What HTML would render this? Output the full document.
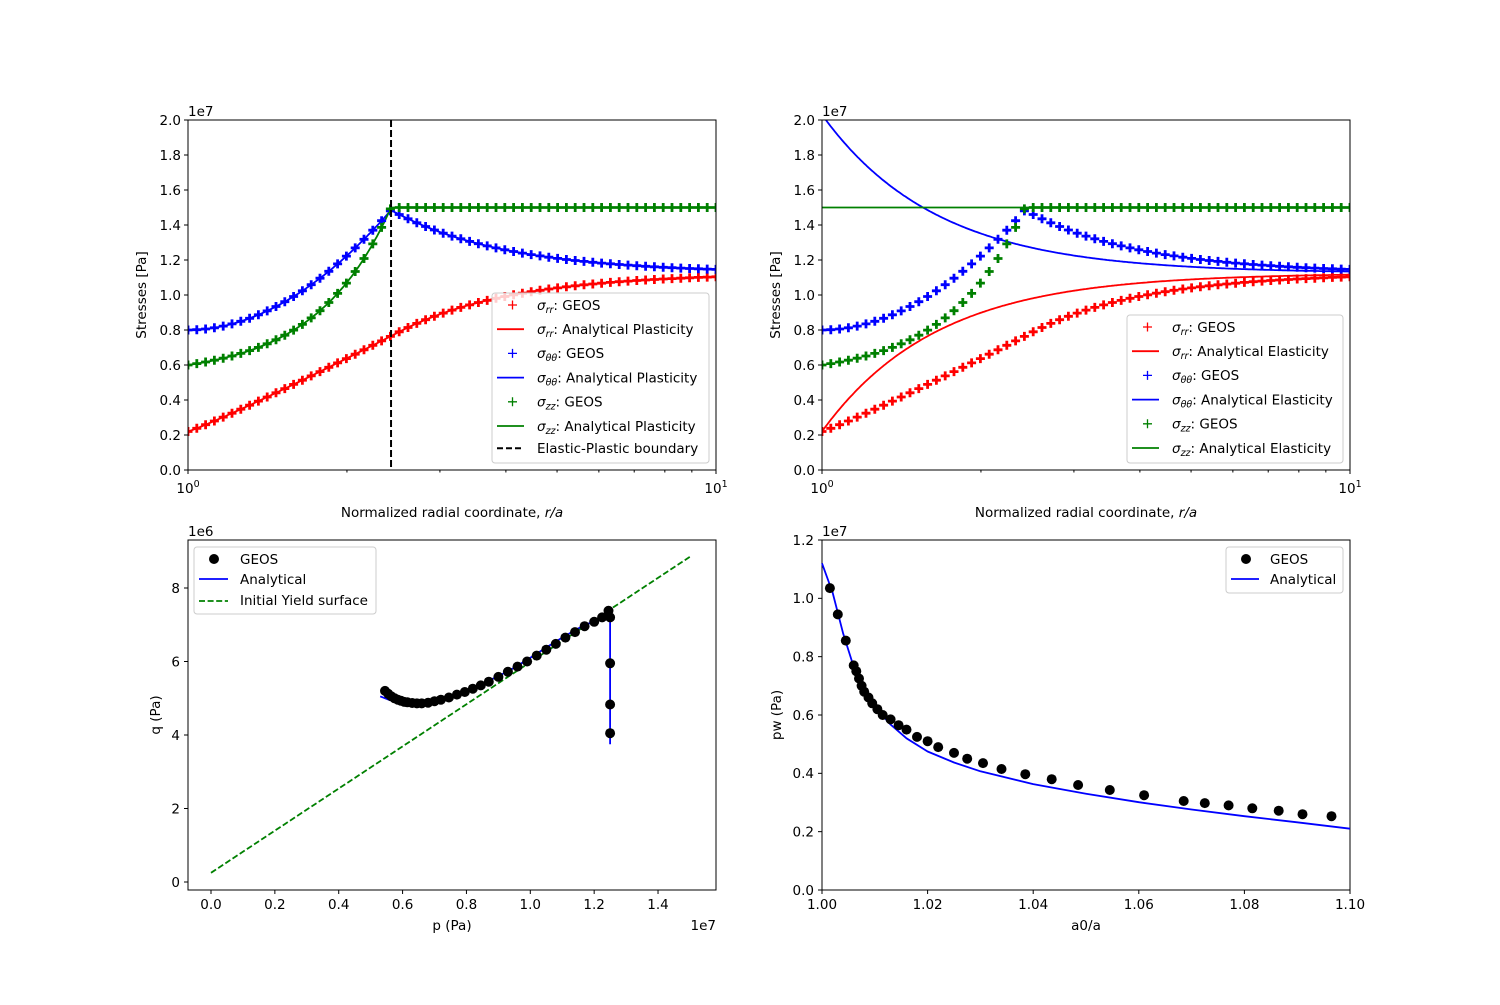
<!DOCTYPE html>
<html><head><meta charset="utf-8"><style>
body{margin:0;background:#fff;}
svg{font-family:"DejaVu Sans","Liberation Sans",sans-serif;}
</style></head><body>
<svg id="s" width="1500" height="1000" xmlns="http://www.w3.org/2000/svg"></svg>
<script>
const S=document.getElementById('s');let h='';const FS=13.5,LW=1.8;
function f(v,d){return v.toFixed(d);}
const R=2.424,SS=1.125;
function srr(r){if(r>=R)return SS-(SS-0.765)*(R/r)*(R/r);const t=Math.log10(r)/Math.log10(R);return 0.22+0.545*Math.pow(t,1.08);}
function stt(r){if(r>=R)return SS+(1.485-SS)*(R/r)*(R/r);const t=Math.log10(r)/Math.log10(R);return 0.8+0.685*Math.pow(t,1.95);}
function szz(r){if(r>=R)return 1.5;const t=Math.log10(r)/Math.log10(R);const k=2.7;return 0.6+0.9*(Math.exp(k*t)-1)/(Math.exp(k)-1);}
function topAxes(x0,plastic){
 const X=r=>x0+528*Math.log10(r),Y=v=>470-175*v;
 let s=`<defs><clipPath id="c${x0}"><rect x="${x0}" y="120" width="528" height="350"/></clipPath></defs>`;
 s+=`<g clip-path="url(#c${x0})">`;
 const pl=(fn,col)=>{let p=[];for(let i=0;i<=400;i++){const r=Math.pow(10,i/400);p.push(f(X(r),1)+','+f(Y(fn(r)),1));}return `<polyline points="${p.join(' ')}" fill="none" stroke="${col}" stroke-width="${LW}"/>`;};
 if(plastic){s+=pl(srr,'red')+pl(stt,'blue')+pl(szz,'green');}
 else{s+=pl(r=>SS-(SS-0.22)/(r*r),'red')+pl(r=>SS+(SS-0.22)/(r*r),'blue')+pl(r=>1.5,'green');}
 const mk=(fn,col)=>{let m='';for(let i=0;i<=60;i++){const r=Math.pow(10,i/60);const x=X(r),y=Y(fn(r));m+=`M${f(x-4.5,1)},${f(y,1)}h9M${f(x,1)},${f(y-4.5,1)}v9`;}return `<path d="${m}" stroke="${col}" stroke-width="2.8" fill="none"/>`;};
 s+=mk(srr,'red')+mk(stt,'blue')+mk(szz,'green');
 if(plastic)s+=`<line x1="${X(R)}" y1="120" x2="${X(R)}" y2="470" stroke="#000" stroke-width="2" stroke-dasharray="7,3"/>`;
 s+='</g>';
 s+=`<rect x="${x0}" y="120" width="528" height="350" fill="none" stroke="#000" stroke-width="1"/>`;
 for(let i=0;i<=10;i++){const y=Y(i*0.2);s+=`<line x1="${x0-4}" y1="${y}" x2="${x0}" y2="${y}" stroke="#000"/><text x="${x0-7}" y="${y+4.8}" font-size="${FS}" text-anchor="end">${(i*0.2).toFixed(1)}</text>`;}
 for(let k=2;k<=9;k++){const x=X(k);s+=`<line x1="${x}" y1="470" x2="${x}" y2="472.5" stroke="#000"/>`;}
 s+=`<line x1="${x0}" y1="470" x2="${x0}" y2="474" stroke="#000"/><line x1="${x0+528}" y1="470" x2="${x0+528}" y2="474" stroke="#000"/>`;
 s+=`<text x="${x0}" y="493" font-size="${FS}" text-anchor="middle">10<tspan dy="-6" font-size="9.5">0</tspan></text>`;
 s+=`<text x="${x0+528}" y="493" font-size="${FS}" text-anchor="middle">10<tspan dy="-6" font-size="9.5">1</tspan></text>`;
 s+=`<text x="${x0}" y="116" font-size="${FS}">1e7</text>`;
 s+=`<text x="${x0+264}" y="517" font-size="${FS}" text-anchor="middle">Normalized radial coordinate, <tspan font-style="italic">r/a</tspan></text>`;
 s+=`<text transform="translate(${x0-42},295) rotate(-90)" font-size="${FS}" text-anchor="middle">Stresses [Pa]</text>`;
 return s;
}
h+=topAxes(188,true)+topAxes(822,false);
function sig(sub){return `<tspan font-style="italic">σ</tspan><tspan font-style="italic" font-size="9.5" dy="3">${sub}</tspan><tspan dy="-3">`;}
function legTop(x,y,w,ht,label,dash){
 let s=`<rect x="${x}" y="${y}" width="${w}" height="${ht}" rx="3" fill="#fff" fill-opacity="0.8" stroke="#ccc"/>`;
 const items=[['red','rr',0],['red','rr',1],['blue','θθ',0],['blue','θθ',1],['green','zz',0],['green','zz',1]];
 items.forEach((it,i)=>{const yy=y+12+i*24.2;
  if(it[2]==0)s+=`<path d="M${x+16},${yy}h9M${x+20.5},${yy-4.5}v9" stroke="${it[0]}" stroke-width="1.3"/>`;
  else s+=`<line x1="${x+5}" y1="${yy}" x2="${x+32}" y2="${yy}" stroke="${it[0]}" stroke-width="${LW}"/>`;
  s+=`<text x="${x+45}" y="${yy+4.8}" font-size="${FS}">${sig(it[1])}: ${it[2]==0?'GEOS':label}</tspan></text>`;});
 if(dash){const yy=y+12+6*24.2-2;s+=`<line x1="${x+5}" y1="${yy}" x2="${x+32}" y2="${yy}" stroke="#000" stroke-width="2" stroke-dasharray="6,3"/><text x="${x+45}" y="${yy+4.8}" font-size="${FS}">Elastic-Plastic boundary</text>`;}
 return s;
}
h+=legTop(492,293,217,170,'Analytical Plasticity',true);
h+=legTop(1127,315,216,148,'Analytical Elasticity',false);
{const X=p=>211+p*319.3,Y=q=>882-q*36.75;
 let s=`<rect x="188" y="540" width="528" height="350" fill="none" stroke="#000"/>`;
 s+=`<line x1="${X(0)}" y1="${Y(0.25)}" x2="${X(1.5)}" y2="${Y(8.85)}" stroke="green" stroke-width="${LW}" stroke-dasharray="6,2.6"/>`;
 const c=[[0.53,5.05],[0.56,4.95],[0.6,4.88],[0.65,4.85],[0.7,4.9],[0.75,5.03],[0.8,5.2],[0.85,5.4],[0.9,5.6],[0.95,5.83],[1.0,6.1],[1.05,6.38],[1.1,6.65],[1.15,6.9],[1.2,7.1],[1.245,7.25],[1.25,7.25],[1.25,3.75]];
 s+=`<polyline points="${c.map(a=>f(X(a[0]),1)+','+f(Y(a[1]),1)).join(' ')}" fill="none" stroke="blue" stroke-width="${LW}"/>`;
 const d=[[0.545,5.2],[0.555,5.12],[0.565,5.05],[0.575,5.0],[0.585,4.96],[0.595,4.93],[0.605,4.9],[0.615,4.89],[0.63,4.87],[0.645,4.86],[0.66,4.86],[0.68,4.88],[0.7,4.92],[0.72,4.96],[0.745,5.02],[0.77,5.1],[0.795,5.17],[0.82,5.26],[0.845,5.35],[0.87,5.45],[0.9,5.58],[0.93,5.72],[0.96,5.86],[0.99,6.0],[1.02,6.16],[1.05,6.32],[1.08,6.48],[1.11,6.65],[1.14,6.8],[1.17,6.96],[1.2,7.08],[1.225,7.2],[1.245,7.38],[1.25,7.2],[1.25,5.95],[1.25,4.83],[1.25,4.05]];
 d.forEach(a=>s+=`<circle cx="${f(X(a[0]),1)}" cy="${f(Y(a[1]),1)}" r="5" fill="#000"/>`);
 for(let i=0;i<=7;i++){const x=X(i*0.2);s+=`<line x1="${x}" y1="890" x2="${x}" y2="894" stroke="#000"/><text x="${x}" y="909" font-size="${FS}" text-anchor="middle">${(i*0.2).toFixed(1)}</text>`;}
 for(let i=0;i<=4;i++){const y=Y(i*2);s+=`<line x1="184" y1="${y}" x2="188" y2="${y}" stroke="#000"/><text x="180" y="${y+4.8}" font-size="${FS}" text-anchor="end">${i*2}</text>`;}
 s+=`<text x="188" y="536" font-size="${FS}">1e6</text><text x="716" y="930" font-size="${FS}" text-anchor="end">1e7</text>`;
 s+=`<text x="452" y="930" font-size="${FS}" text-anchor="middle">p (Pa)</text>`;
 s+=`<text transform="translate(160,715) rotate(-90)" font-size="${FS}" text-anchor="middle">q (Pa)</text>`;
 s+=`<rect x="194" y="547" width="182" height="67" rx="3" fill="#fff" fill-opacity="0.8" stroke="#ccc"/>`;
 s+=`<circle cx="214" cy="559" r="5" fill="#000"/><text x="240" y="564" font-size="${FS}">GEOS</text>`;
 s+=`<line x1="199" y1="579" x2="228" y2="579" stroke="blue" stroke-width="${LW}"/><text x="240" y="584" font-size="${FS}">Analytical</text>`;
 s+=`<line x1="199" y1="601" x2="228" y2="601" stroke="green" stroke-width="${LW}" stroke-dasharray="6,2.6"/><text x="240" y="605" font-size="${FS}">Initial Yield surface</text>`;
 h+=s;}
{const X=a=>822+(a-1)*5280,Y=v=>890-v*291.67;
 let s=`<rect x="822" y="540" width="528" height="350" fill="none" stroke="#000"/>`;
 const c=[[1.0,1.12],[1.002,1.02],[1.004,0.88],[1.006,0.765],[1.008,0.685],[1.010,0.628],[1.013,0.567],[1.016,0.52],[1.02,0.475],[1.025,0.437],[1.03,0.407],[1.04,0.363],[1.05,0.33],[1.06,0.301],[1.07,0.276],[1.08,0.253],[1.09,0.232],[1.1,0.21]];
 s+=`<polyline points="${c.map(a=>f(X(a[0]),1)+','+f(Y(a[1]),1)).join(' ')}" fill="none" stroke="blue" stroke-width="${LW}" stroke-linejoin="round"/>`;
 const d=[[1.0015,1.035],[1.003,0.945],[1.0045,0.855],[1.006,0.77],[1.0065,0.75],[1.007,0.725],[1.0075,0.70],[1.008,0.68],[1.0088,0.66],[1.0095,0.64],[1.0105,0.62],[1.0115,0.60],[1.013,0.585],[1.0145,0.565],[1.016,0.55],[1.018,0.525],[1.020,0.51],[1.022,0.49],[1.025,0.47],[1.0275,0.45],[1.0305,0.435],[1.034,0.415],[1.0385,0.397],[1.0435,0.38],[1.0485,0.36],[1.0545,0.343],[1.061,0.325],[1.0685,0.305],[1.0725,0.298],[1.077,0.29],[1.0815,0.28],[1.0865,0.272],[1.091,0.26],[1.0965,0.253]];
 d.forEach(a=>s+=`<circle cx="${f(X(a[0]),1)}" cy="${f(Y(a[1]),1)}" r="5" fill="#000"/>`);
 for(let i=0;i<=5;i++){const x=X(1+i*0.02);s+=`<line x1="${x}" y1="890" x2="${x}" y2="894" stroke="#000"/><text x="${x}" y="909" font-size="${FS}" text-anchor="middle">${(1+i*0.02).toFixed(2)}</text>`;}
 for(let i=0;i<=6;i++){const y=Y(i*0.2);s+=`<line x1="818" y1="${y}" x2="822" y2="${y}" stroke="#000"/><text x="814" y="${y+4.8}" font-size="${FS}" text-anchor="end">${(i*0.2).toFixed(1)}</text>`;}
 s+=`<text x="822" y="536" font-size="${FS}">1e7</text>`;
 s+=`<text x="1086" y="930" font-size="${FS}" text-anchor="middle">a0/a</text>`;
 s+=`<text transform="translate(781,715) rotate(-90)" font-size="${FS}" text-anchor="middle">pw (Pa)</text>`;
 s+=`<rect x="1226" y="547" width="117" height="46" rx="3" fill="#fff" fill-opacity="0.8" stroke="#ccc"/>`;
 s+=`<circle cx="1246" cy="559" r="5" fill="#000"/><text x="1270" y="564" font-size="${FS}">GEOS</text>`;
 s+=`<line x1="1231" y1="579" x2="1259" y2="579" stroke="blue" stroke-width="${LW}"/><text x="1270" y="584" font-size="${FS}">Analytical</text>`;
 h+=s;}
S.innerHTML=h;
</script>
</body></html>
